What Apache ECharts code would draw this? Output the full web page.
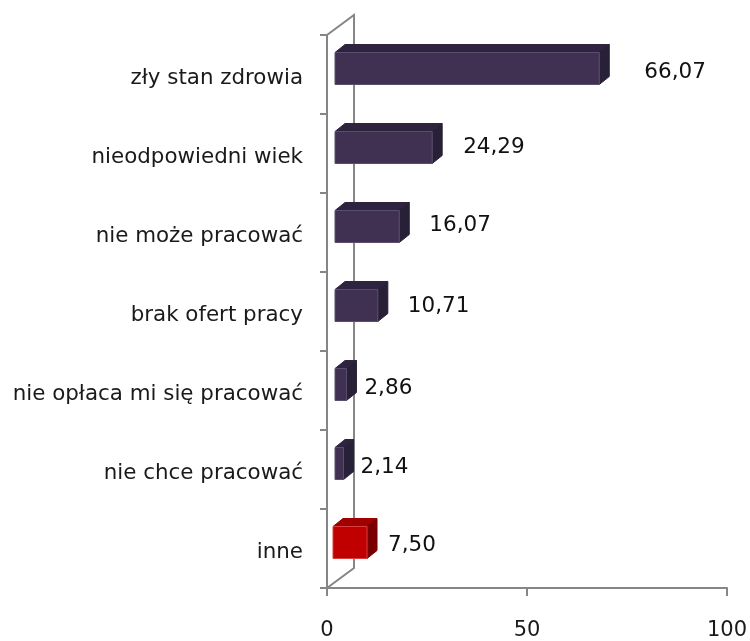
<!DOCTYPE html>
<html><head><meta charset="utf-8">
<style>html,body{margin:0;padding:0;background:#fff}#c{width:750px;height:641px}</style>
<script src="https://cdn.jsdelivr.net/npm/echarts@6/dist/echarts.min.js"></script>
</head><body><div id="c"></div>
<script>
const categories = ['zły stan zdrowia','nieodpowiedni wiek','nie może pracować','brak ofert pracy','nie opłaca mi się pracować','nie chce pracować','inne'];
const values = [66.07,24.29,16.07,10.71,2.86,2.14,7.50];
const valueLabels = ['66,07','24,29','16,07','10,71','2,86','2,14','7,50'];
const xTicks = {min:0,max:100,interval:50};
const labelGaps = [35,21,20,20,8,7,11];
const labelLifts = [0,4,5,3,0,0,1];

const AXIS='#868686';
const DX=10, DY=8, WX=27, WY=20, START=8, BAR_H=32, LIFT=6;
const palette = {
  normal:{front:'#403152',top:'#2f2440',side:'#282036',edge:'#5a4e70'},
  accent:{front:'#c00000',top:'#a00000',side:'#780000',edge:'#d84040'}
};
const chart = echarts.init(document.getElementById('c'),null,{renderer:'canvas'});
function poly(points,fill,stroke){
  return {type:'polygon',shape:{points},style:{fill,stroke:stroke||fill,lineWidth:1}};
}
chart.setOption({
  animation:false,
  backgroundColor:'#fff',
  grid:{left:327,right:23,top:35,bottom:53,containLabel:false,outerBoundsMode:'none'},
  xAxis:{type:'value',min:xTicks.min,max:xTicks.max,interval:xTicks.interval,
    splitLine:{show:false},
    axisLine:{show:true,lineStyle:{color:AXIS,width:2}},
    axisTick:{show:true,length:8,lineStyle:{color:AXIS,width:2}},
    axisLabel:{margin:32,color:'#1a1a1a',fontFamily:'DejaVu Sans',fontSize:21,showMinLabel:true,showMaxLabel:true,hideOverlap:false}},
  yAxis:{type:'category',inverse:true,data:categories,
    axisLine:{show:true,onZero:false,lineStyle:{color:AXIS,width:2}},
    axisTick:{show:true,length:7,alignWithLabel:false,lineStyle:{color:AXIS,width:2}},
    axisLabel:{margin:24,color:'#1a1a1a',fontFamily:'DejaVu Sans',fontSize:21.4,interval:0,verticalAlign:'top',lineHeight:7}},
  series:[
    {type:'custom',z:1,silent:true,coordinateSystem:'cartesian2d',data:[[0,0]],
     renderItem(params){
       const c=params.coordSys, l=c.x, t=c.y, b=c.y+c.height;
       const s={stroke:AXIS,lineWidth:2,fill:'none'};
       return {type:'group',children:[
         {type:'polyline',shape:{points:[[l,t],[l+WX,t-WY],[l+WX,b-WY],[l,b]]},style:s}
       ]};
     }},
    {type:'custom',z:3,silent:true,coordinateSystem:'cartesian2d',
     encode:{x:0,y:1},
     data:values.map((v,i)=>[v,i]),
     renderItem(params,api){
       const i=api.value(1), v=api.value(0);
       const p0=api.coord([0,i]), p1=api.coord([v,i]);
       const pad = i===values.length-1 ? 2 : 0;
       const x0=p0[0]+START-pad, x1=p1[0]+START+pad;
       const yt=p0[1]-LIFT-BAR_H/2, yb=yt+BAR_H;
       const col=i===values.length-1?palette.accent:palette.normal;
       return {type:'group',children:[
         poly([[x0,yt],[x0+DX,yt-DY],[x1+DX,yt-DY],[x1,yt]],col.top),
         poly([[x1,yt],[x1+DX,yt-DY],[x1+DX,yb-DY],[x1,yb]],col.side),
         {type:'rect',shape:{x:x0,y:yt,width:x1-x0,height:BAR_H},style:{fill:col.front,stroke:col.edge,lineWidth:1}},
         {type:'text',style:{text:valueLabels[i],x:x1+DX+labelGaps[i],y:yt+BAR_H/2+4-labelLifts[i],
           fill:'#111',font:'21.5px "DejaVu Sans"',textAlign:'left',textVerticalAlign:'middle'}}
       ]};
     }}
  ]
});
</script></body></html>
